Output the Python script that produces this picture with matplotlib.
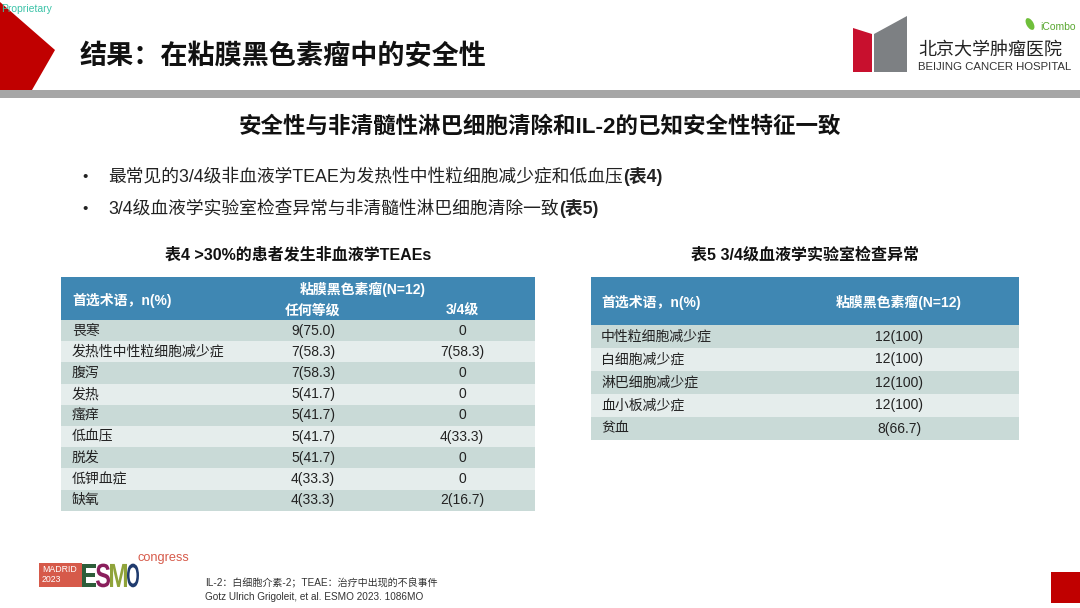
import matplotlib
matplotlib.use("Agg")
import matplotlib.pyplot as plt
from matplotlib.patches import Rectangle, Polygon, PathPatch, Ellipse
from matplotlib.textpath import TextPath
from matplotlib.font_manager import FontProperties
import matplotlib.transforms as mtransforms

plt.rcParams['font.family'] = ['Liberation Sans', 'Noto Sans CJK SC', 'DejaVu Sans']

# ---- data ----
title = "结果：在粘膜黑色素瘤中的安全性"
subtitle = "安全性与非清髓性淋巴细胞清除和IL-2的已知安全性特征一致"
bullets = [("最常见的3/4级非血液学TEAE为发热性中性粒细胞减少症和低血压", "(表4)"),
           ("3/4级血液学实验室检查异常与非清髓性淋巴细胞清除一致", "(表5)")]

t4_title = "表4 >30%的患者发生非血液学TEAEs"
t4_terms = ['畏寒', '发热性中性粒细胞减少症', '腹泻', '发热', '瘙痒',
            '低血压', '脱发', '低钾血症', '缺氧']
t4_any = ['9(75.0)', '7(58.3)', '7(58.3)', '5(41.7)', '5(41.7)',
          '5(41.7)', '5(41.7)', '4(33.3)', '4(33.3)']
t4_g34 = ['0', '7(58.3)', '0', '0', '0', '4(33.3)', '0', '0', '2(16.7)']

t5_title = "表5 3/4级血液学实验室检查异常"
t5_terms = ['中性粒细胞减少症', '白细胞减少症', '淋巴细胞减少症', '血小板减少症', '贫血']
t5_vals = ['12(100)', '12(100)', '12(100)', '12(100)', '8(66.7)']

foot1 = "IL-2：白细胞介素-2；TEAE：治疗中出现的不良事件"
foot2 = "Gotz Ulrich Grigoleit, et al. ESMO 2023. 1086MO"

HEAD_BLUE = '#3f87b3'
ROW_DARK = '#c9dad7'
ROW_LIGHT = '#e5edec'
RED = '#c00000'

fig = plt.figure(figsize=(10.8, 6.08), dpi=100)
ax = fig.add_axes([0, 0, 1, 1])
ax.set_xlim(0, 1080)
ax.set_ylim(608, 0)
ax.axis('off')

# ---- slide header ----
ax.add_patch(Polygon([(0, 2), (55, 50), (32, 90), (0, 90)], closed=True,
                     facecolor=RED, edgecolor='none'))
ax.text(1, 9, "Proprietary", fontsize=7.5, color='#3cc3a8', va='center', ha='left')
ax.text(80, 57, title, fontsize=19.5, fontweight='bold', color='#111111',
        va='center', ha='left')
ax.add_patch(Rectangle((0, 90), 1080, 7.5, facecolor='#a6a6a6', edgecolor='none'))

# hospital logo
ax.add_patch(Polygon([(853, 28), (872, 34), (872, 72), (853, 72)], closed=True,
                     facecolor='#c8102e', edgecolor='none'))
ax.add_patch(Polygon([(874, 34), (907, 16), (907, 72), (874, 72)], closed=True,
                     facecolor='#7d8083', edgecolor='none'))
ax.text(918, 50, "北京大学肿瘤医院", fontsize=13, color='#222222', va='center', ha='left')
ax.text(918, 67, "BEIJING CANCER HOSPITAL", fontsize=8.2, color='#333333',
        va='center', ha='left')
ax.add_patch(Ellipse((1030, 24), 7, 13, angle=-30, facecolor='#6fbf3a', edgecolor='none'))
ax.text(1040, 27, "iCombo", fontsize=7.5, color='#5aa832', va='center', ha='left')

# ---- subtitle and bullets ----
ax.text(540, 127, subtitle, fontsize=16.2, fontweight='bold', color='#111111',
        va='center', ha='center')

fig.canvas.draw()
renderer = fig.canvas.get_renderer()
for i, (txt, bold) in enumerate(bullets):
    yb = 182 + i * 32
    ax.text(82, yb - 1, "•", fontsize=11, color='#222222', va='baseline', ha='left')
    t = ax.text(108, yb, txt, fontsize=12.8, color='#222222', va='baseline', ha='left')
    bb = t.get_window_extent(renderer)
    ax.text(bb.x1, yb, bold, fontsize=12.8, fontweight='bold', color='#222222',
            va='baseline', ha='left')

# ---- table 4 ----
t4_x0, t4_x1 = 61, 535
t4_top, t4_head_bot = 277, 320
t4_rh = 21.2
ax.text(298, 255, t4_title, fontsize=11.5, fontweight='bold', color='#111111',
        va='center', ha='center')
ax.add_patch(Rectangle((t4_x0, t4_top), t4_x1 - t4_x0, t4_head_bot - t4_top,
                       facecolor=HEAD_BLUE, edgecolor='none'))
ax.text(72, 301, "首选术语，n(%)", fontsize=10, fontweight='bold', color='white',
        va='center', ha='left')
ax.text(363, 289, "粘膜黑色素瘤(N=12)", fontsize=10, fontweight='bold', color='white',
        va='center', ha='center')
ax.text(313, 311, "任何等级", fontsize=10, fontweight='bold', color='white',
        va='center', ha='center')
ax.text(462, 311, "3/4级", fontsize=10, fontweight='bold', color='white',
        va='center', ha='center')
for i, (term, a, g) in enumerate(zip(t4_terms, t4_any, t4_g34)):
    y0 = t4_head_bot + i * t4_rh
    ax.add_patch(Rectangle((t4_x0, y0), t4_x1 - t4_x0, t4_rh,
                           facecolor=ROW_DARK if i % 2 == 0 else ROW_LIGHT,
                           edgecolor='none'))
    yc = y0 + t4_rh / 2
    ax.text(72, yc, term, fontsize=10, color='#222222', va='center', ha='left')
    ax.text(313, yc, a, fontsize=10, color='#222222', va='center', ha='center')
    ax.text(462, yc, g, fontsize=10, color='#222222', va='center', ha='center')

# ---- table 5 ----
t5_x0, t5_x1 = 591, 1019
t5_top, t5_head_bot = 277, 325
t5_rh = 23
ax.text(805, 255, t5_title, fontsize=11.5, fontweight='bold', color='#111111',
        va='center', ha='center')
ax.add_patch(Rectangle((t5_x0, t5_top), t5_x1 - t5_x0, t5_head_bot - t5_top,
                       facecolor=HEAD_BLUE, edgecolor='none'))
ax.text(601, 302, "首选术语，n(%)", fontsize=10, fontweight='bold', color='white',
        va='center', ha='left')
ax.text(899, 302, "粘膜黑色素瘤(N=12)", fontsize=10, fontweight='bold', color='white',
        va='center', ha='center')
for i, (term, v) in enumerate(zip(t5_terms, t5_vals)):
    y0 = t5_head_bot + i * t5_rh
    ax.add_patch(Rectangle((t5_x0, y0), t5_x1 - t5_x0, t5_rh,
                           facecolor=ROW_DARK if i % 2 == 0 else ROW_LIGHT,
                           edgecolor='none'))
    yc = y0 + t5_rh / 2
    ax.text(601, yc, term, fontsize=10, color='#222222', va='center', ha='left')
    ax.text(899, yc, v, fontsize=10, color='#222222', va='center', ha='center')

# ---- footer: ESMO logo ----
ax.add_patch(Rectangle((39, 563), 43, 23.5, facecolor='#d65a4a', edgecolor='none'))
ax.text(42, 569, "MADRID", fontsize=6.3, color='white', va='center', ha='left')
ax.text(42, 580, "2023", fontsize=6.3, color='white', va='center', ha='left')

bold_prop = FontProperties(family='Liberation Sans', weight='bold')
esmo = [('E', '#2d5e3a', 82, 14), ('S', '#8a1f5c', 96, 14),
        ('M', '#8fa33a', 110, 17), ('O', '#1f3b6e', 127, 12)]
for ch, col, x, w in esmo:
    tp = TextPath((0, 0), ch, size=1, prop=bold_prop)
    ext = tp.get_extents()
    sx = w / ext.width
    sy = 24 / 0.716
    tr = mtransforms.Affine2D().translate(-ext.x0, 0).scale(sx, -sy).translate(x, 587)
    ax.add_patch(PathPatch(tr.transform_path(tp), facecolor=col, edgecolor='none'))
ax.text(137, 558, "congress", fontsize=9.2, color='#d65a4a', va='center', ha='left')

ax.text(205, 583, foot1, fontsize=7.2, color='#333333', va='center', ha='left')
ax.text(205, 597, foot2, fontsize=7.2, color='#333333', va='center', ha='left')

ax.add_patch(Rectangle((1051, 572), 29, 31, facecolor=RED, edgecolor='none'))

fig.savefig("out.png", dpi=100)
